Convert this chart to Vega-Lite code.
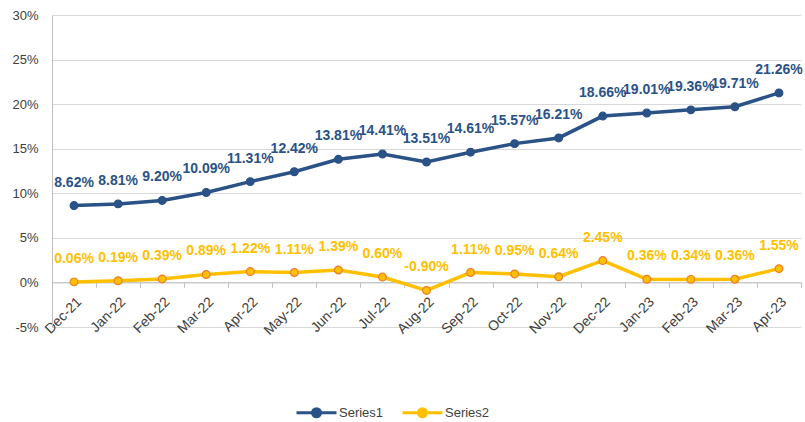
{
  "$schema": "https://vega.github.io/schema/vega-lite/v6.json",
  "width": 749,
  "height": 312,
  "autosize": {"type": "none"},
  "padding": {"left": 52, "top": 15, "right": 4, "bottom": 95},
  "background": "white",
  "config": {
    "view": {"stroke": null},
    "font": "Liberation Sans",
    "locale": {"number": {"decimal": ".", "thousands": ",", "grouping": [3], "currency": ["$", ""], "minus": "-", "percent": "%"}}
  },
  "data": {
    "values": [
      {"month": "Dec-21", "series": "Series1", "value": 0.0862},
      {"month": "Jan-22", "series": "Series1", "value": 0.0881},
      {"month": "Feb-22", "series": "Series1", "value": 0.0920},
      {"month": "Mar-22", "series": "Series1", "value": 0.1009},
      {"month": "Apr-22", "series": "Series1", "value": 0.1131},
      {"month": "May-22", "series": "Series1", "value": 0.1242},
      {"month": "Jun-22", "series": "Series1", "value": 0.1381},
      {"month": "Jul-22", "series": "Series1", "value": 0.1441},
      {"month": "Aug-22", "series": "Series1", "value": 0.1351},
      {"month": "Sep-22", "series": "Series1", "value": 0.1461},
      {"month": "Oct-22", "series": "Series1", "value": 0.1557},
      {"month": "Nov-22", "series": "Series1", "value": 0.1621},
      {"month": "Dec-22", "series": "Series1", "value": 0.1866},
      {"month": "Jan-23", "series": "Series1", "value": 0.1901},
      {"month": "Feb-23", "series": "Series1", "value": 0.1936},
      {"month": "Mar-23", "series": "Series1", "value": 0.1971},
      {"month": "Apr-23", "series": "Series1", "value": 0.2126},
      {"month": "Dec-21", "series": "Series2", "value": 0.0006},
      {"month": "Jan-22", "series": "Series2", "value": 0.0019},
      {"month": "Feb-22", "series": "Series2", "value": 0.0039},
      {"month": "Mar-22", "series": "Series2", "value": 0.0089},
      {"month": "Apr-22", "series": "Series2", "value": 0.0122},
      {"month": "May-22", "series": "Series2", "value": 0.0111},
      {"month": "Jun-22", "series": "Series2", "value": 0.0139},
      {"month": "Jul-22", "series": "Series2", "value": 0.0060},
      {"month": "Aug-22", "series": "Series2", "value": -0.0090},
      {"month": "Sep-22", "series": "Series2", "value": 0.0111},
      {"month": "Oct-22", "series": "Series2", "value": 0.0095},
      {"month": "Nov-22", "series": "Series2", "value": 0.0064},
      {"month": "Dec-22", "series": "Series2", "value": 0.0245},
      {"month": "Jan-23", "series": "Series2", "value": 0.0036},
      {"month": "Feb-23", "series": "Series2", "value": 0.0034},
      {"month": "Mar-23", "series": "Series2", "value": 0.0036},
      {"month": "Apr-23", "series": "Series2", "value": 0.0155}
    ]
  },
  "encoding": {
    "x": {
      "field": "month",
      "type": "ordinal",
      "sort": null,
      "bandPosition": 0.5,
      "scale": {"type": "band", "paddingInner": 0, "paddingOuter": 0},
      "axis": {
        "title": null,
        "labelAngle": -45,
        "labelAlign": "right",
        "labelBaseline": "top",
        "labelFontSize": 14,
        "labelColor": "#404040",
        "labelPadding": 7,
        "offset": -44.6,
        "domainColor": "#BFBFBF",
        "domainWidth": 1,
        "tickColor": "#BFBFBF",
        "tickSize": 5,
        "tickBand": "extent",
        "grid": false
      }
    },
    "y": {
      "field": "value",
      "type": "quantitative",
      "scale": {"domain": [-0.05, 0.30], "nice": false, "zero": false},
      "axis": {
        "title": null,
        "format": ".0%",
        "values": [-0.05, 0, 0.05, 0.10, 0.15, 0.20, 0.25, 0.30],
        "labelFontSize": 13,
        "labelColor": "#404040",
        "labelPadding": 14,
        "ticks": false,
        "domainColor": "#BFBFBF",
        "gridColor": "#D9D9D9",
        "gridWidth": 1
      }
    },
    "color": {
      "field": "series",
      "type": "nominal",
      "scale": {"domain": ["Series1", "Series2"], "range": ["#2B5286", "#FFC000"]},
      "legend": {
        "title": null,
        "orient": "none",
        "direction": "horizontal",
        "legendX": 243,
        "legendY": 376,
        "labelFontSize": 13,
        "labelColor": "#404040",
        "symbolType": "M-1,0H1M0.2,0A0.2,0.2,0,1,1,-0.2,0A0.2,0.2,0,1,1,0.2,0Z",
        "symbolSize": 1600,
        "symbolStrokeWidth": 3,
        "columnPadding": 12,
        "labelOffset": 1,
        "encode": {
          "symbols": {
            "update": {
              "stroke": {"scale": "color", "field": "value"},
              "fill": {"scale": "color", "field": "value"},
              "strokeWidth": {"value": 3}
            }
          }
        }
      }
    }
  },
  "layer": [
    {"mark": {"type": "line", "strokeWidth": 3.5}},
    {
      "mark": {"type": "point", "filled": true, "size": 60, "strokeWidth": 1.2, "opacity": 1},
      "encoding": {
        "stroke": {
          "field": "series",
          "type": "nominal",
          "scale": {"domain": ["Series1", "Series2"], "range": ["#2B5286", "#ED7D31"]},
          "legend": null
        }
      }
    },
    {
      "mark": {"type": "text", "dy": -23, "fontSize": 14, "fontWeight": "bold"},
      "encoding": {
        "text": {"field": "value", "type": "quantitative", "format": ".2%"}
      }
    }
  ]
}
